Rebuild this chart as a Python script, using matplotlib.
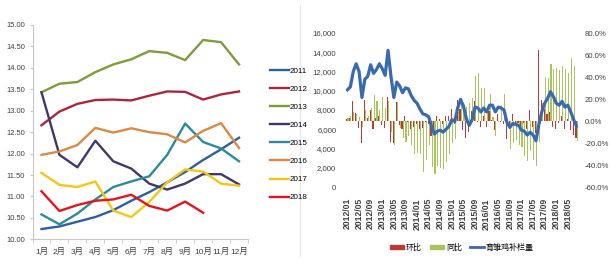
import numpy as np
import matplotlib
matplotlib.use("Agg")
import matplotlib.pyplot as plt
from matplotlib.patches import Patch
from matplotlib.lines import Line2D

plt.rcParams['font.family'] = ['Liberation Sans', 'Noto Sans CJK SC', 'DejaVu Sans']

# ---- left chart: monthly price by year ----
months = ['1月', '2月', '3月', '4月', '5月', '6月', '7月', '8月', '9月', '10月', '11月', '12月']
years = ['2011', '2012', '2013', '2014', '2015', '2016', '2017', '2018']
y2011 = [10.24, 10.30, 10.41, 10.52, 10.68, 10.90, 11.10, 11.33, 11.57, 11.85, 12.10, 12.37]
y2012 = [12.66, 12.98, 13.16, 13.25, 13.26, 13.24, 13.35, 13.45, 13.44, 13.26, 13.38, 13.45]
y2013 = [13.43, 13.63, 13.67, 13.90, 14.08, 14.20, 14.39, 14.35, 14.18, 14.65, 14.60, 14.08]
y2014 = [13.43, 11.97, 11.68, 12.30, 11.82, 11.65, 11.30, 11.16, 11.30, 11.52, 11.52, 11.28]
y2015 = [10.58, 10.35, 10.60, 10.93, 11.22, 11.35, 11.47, 11.97, 12.70, 12.27, 12.12, 11.82]
y2016 = [11.97, 12.05, 12.20, 12.60, 12.49, 12.59, 12.50, 12.45, 12.26, 12.53, 12.71, 12.13]
y2017 = [11.55, 11.27, 11.22, 11.35, 10.67, 10.52, 10.87, 11.33, 11.63, 11.58, 11.30, 11.25]
y2018 = [11.12, 10.66, 10.80, 10.90, 10.93, 11.04, 10.78, 10.67, 10.88, 10.62]
series = [y2011, y2012, y2013, y2014, y2015, y2016, y2017, y2018]
colors = ['#2F5FA0', '#A8283A', '#7F9B3C', '#3E3A68', '#2E8A9A', '#DA8A45', '#F5C518', '#E3141C']

# ---- right chart: stock (left axis) and MoM / YoY change (right axis, %) ----
stock = [10.1, 10.4, 12.0, 12.8, 12.0, 9.3, 11.2, 11.5, 12.7, 11.8, 12.2, 12.8,
         12.3, 11.6, 14.2, 11.5, 9.3, 10.9, 10.5, 9.8, 10.3, 10.2, 9.5, 9.0,
         8.7, 8.1, 7.6, 7.5, 7.3, 6.3, 5.5, 5.8, 5.9, 5.7, 6.0, 6.3,
         7.0, 6.8, 8.2, 9.1, 8.4, 7.1, 6.4, 7.0, 8.3, 8.2, 7.8, 8.2,
         7.8, 8.5, 8.5, 7.8, 8.3, 8.2, 8.0, 6.7, 6.2, 6.6, 6.5, 6.4,
         5.9, 5.8, 5.4, 5.7, 5.4, 4.8, 6.5, 7.8, 8.7, 9.2, 9.9, 9.4,
         8.7, 8.5, 8.9, 8.3, 8.5, 7.8, 7.0, 6.3]
stock = [v * 1000 for v in stock]
mom = [2, 3, 18, 7, -6, -20, 19, 3, 10, -7, 3, 5,
       -4, -6, 22, -19, -20, 17, -4, -7, 5, -1, -7, -5,
       -3, -7, -6, -1, -3, -14, -13, 5, 2, -3, 5, 5,
       11, -3, 19, 11, -8, -15, -10, 9, 18, -1, -5, 5,
       -5, 9, 1, -8, 6, -1, -3, -16, -7, 6, -2, -2,
       -8, -2, -7, 10, -5, -11, 65, 19, 11, 6, 8, -5,
       -7, -2, 5, -7, 2, -8, -13, -15]
yoy = [3, 5, 8, 6, 4, -5, 10, 5, 12, 24, 18, 10,
       22, 12, 18, -10, -22, 17, -6, -15, -19, -14, -22, -30,
       -29, -30, -46, -35, -22, -42, -48, -41, -43, -44, -37, -30,
       -20, -16, 8, 21, 15, 13, 16, 21, 41, 44, 30, 30,
       11, 25, 4, -14, -1, 15, 25, -4, -25, -20, -17, -22,
       -24, -32, -36, -27, -35, -41, -19, 16, 40, 39, 52, 47,
       48, 46, 50, 47, 44, 57, 50, -18]
date_labels = [f'{2012 + i // 12}/{i % 12 + 1:02d}' for i in range(0, 77, 4)]

W, H = 610, 261
fig = plt.figure(figsize=(W / 100, H / 100), dpi=100)
fig.patch.set_facecolor('white')

def box(l, t, r, b):
    return [l / W, 1 - b / H, (r - l) / W, (b - t) / H]

# left chart
ax1 = fig.add_axes(box(32.5, 25, 248, 239.3))
x = np.arange(12)
for name, vals, c in zip(years, series, colors):
    ax1.plot(x[:len(vals)], vals, color=c, lw=1.7, label=name)
ax1.set_xlim(-0.5, 11.5)
ax1.set_ylim(10, 15)
ax1.set_yticks(np.arange(10, 15.01, 0.5))
ax1.set_yticklabels([f'{v:.2f}' for v in np.arange(10, 15.01, 0.5)])
ax1.set_xticks(x)
ax1.set_xticklabels(months)
ax1.set_xticks(np.arange(-0.5, 12, 1), minor=True)
for s in ['top', 'right']:
    ax1.spines[s].set_visible(False)
for s in ['left', 'bottom']:
    ax1.spines[s].set_color('#C8C8C8')
    ax1.spines[s].set_linewidth(0.8)
ax1.tick_params(axis='y', labelsize=5.4, colors='#C8C8C8', labelcolor='#404040', length=2.5, pad=3)
ax1.tick_params(axis='x', which='major', length=0, labelsize=6, labelcolor='#404040', pad=6)
ax1.tick_params(axis='x', which='minor', length=3, colors='#C8C8C8')
fig.legend(*ax1.get_legend_handles_labels(), loc='upper left', bbox_to_anchor=(266 / W, 1 - 63 / H),
           frameon=False, fontsize=5.8, handlelength=2.3, handletextpad=0.1, labelspacing=1.3,
           borderpad=0)

# right chart
ax2 = fig.add_axes(box(346, 33, 578, 187))
ax3 = ax2.twinx()
xi = np.arange(len(stock))
ax3.bar(xi - 0.2, mom, width=0.38, color='#B83A3A', zorder=1)
ax3.bar(xi + 0.2, yoy, width=0.38, color='#A8C45A', zorder=1)
ax3.set_ylim(-60, 80)
ax3.set_yticks(np.arange(-60, 81, 20))
ax3.set_yticklabels([f'{v:.1f}%' for v in np.arange(-60, 81, 20)])
ax2.set_ylim(0, 16000)
ax2.set_yticks(np.arange(0, 16001, 2000))
ax2.set_yticklabels([f'{v:,}' for v in range(0, 16001, 2000)])
ax2.set_zorder(ax3.get_zorder() + 1)
ax2.patch.set_visible(False)
ax2.plot(xi, stock, color='#3A6AAE', lw=2.3, zorder=3)
ax2.set_xlim(-0.5, len(stock) - 0.5)
ax2.set_xticks(np.arange(0, 77, 4))
ax2.set_xticklabels(date_labels, rotation=90, fontweight='bold')
for a in (ax2, ax3):
    for s in a.spines.values():
        s.set_visible(False)
ax2.tick_params(axis='y', length=0, labelsize=5.6, labelcolor='#404040', pad=7)
ax3.tick_params(axis='y', length=0, labelsize=5.6, labelcolor='#404040', pad=5)
ax2.tick_params(axis='x', length=0, labelsize=6.2, labelcolor='#404040', pad=8)

handles = [Patch(color='#B83A3A'), Patch(color='#A8C45A'), Line2D([], [], color='#3A6AAE', lw=2)]
fig.legend(handles, ['环比', '同比', '育雏鸡补栏量'], loc='center', bbox_to_anchor=(462 / W, 1 - 248 / H),
           ncol=3, frameon=False, fontsize=5.8, handlelength=1.7, handleheight=0.5,
           handletextpad=0.25, columnspacing=1.0)

# faint divider between the two pictures
fig.add_artist(plt.Line2D([300 / W, 300 / W], [0.02, 0.98], color='#E6E6E6', lw=0.8))

fig.savefig('out.png', dpi=100, facecolor='white')
